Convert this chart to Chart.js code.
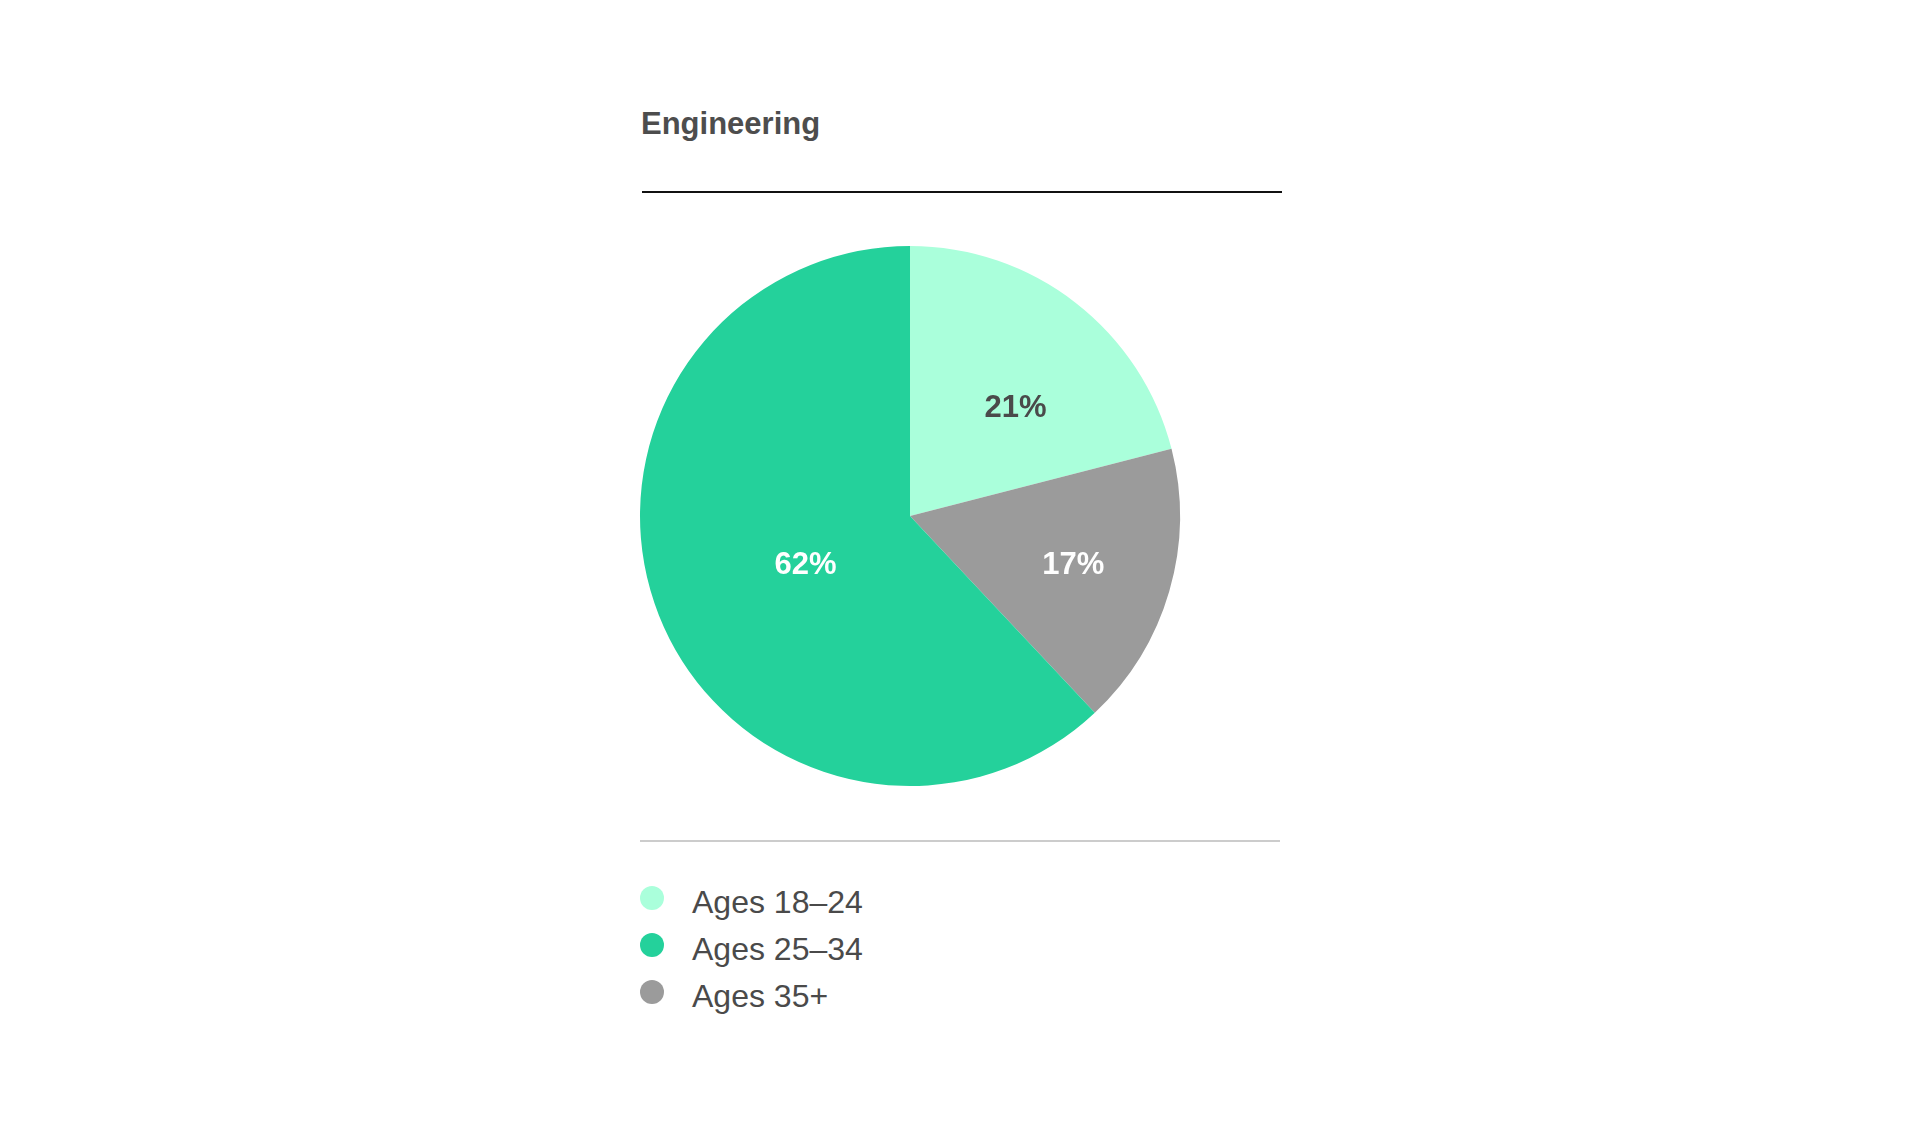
<!DOCTYPE html>
<html>
<head>
<meta charset="utf-8">
<title>Engineering</title>
<script src="https://cdn.jsdelivr.net/npm/chart.js@4.4.0/dist/chart.umd.min.js"></script>
<style>
	html, body {
		margin: 0;
		padding: 0;
		background: #ffffff;
	}
	body {
		width: 1920px;
		height: 1126px;
		position: relative;
		overflow: hidden;
		font-family: "Liberation Sans", Arial, sans-serif;
		color: #4a4a4a;
	}
	#title {
		position: absolute;
		left: 641px;
		top: 108px;
		margin: 0;
		font-size: 31px;
		line-height: 31px;
		font-weight: bold;
		color: #4d4d4d;
	}
	#topRule {
		position: absolute;
		left: 642px;
		top: 191px;
		width: 640px;
		height: 2px;
		background: #111111;
	}
	#pieBox {
		position: absolute;
		left: 630px;
		top: 236px;
		width: 560px;
		height: 560px;
	}
	#bottomRule {
		position: absolute;
		left: 640px;
		top: 840px;
		width: 640px;
		height: 2px;
		background: #cccccc;
	}
	#legend {
		position: absolute;
		left: 640px;
		top: 886px;
	}
	.row {
		position: relative;
		height: 47px;
	}
	.dot {
		position: absolute;
		left: 0;
		top: 0;
		width: 24px;
		height: 24px;
		border-radius: 50%;
	}
	.name {
		position: absolute;
		left: 52px;
		top: 0;
		font-size: 32px;
		line-height: 32px;
		white-space: nowrap;
		color: #4a4a4a;
	}
</style>
</head>
<body>
<h2 id="title">Engineering</h2>
<div id="topRule"></div>
<div id="pieBox"><canvas id="pieChart" width="560" height="560"></canvas></div>
<div id="bottomRule"></div>
<div id="legend"></div>

<script>
// legend order
const categories = ["Ages 18–24", "Ages 25–34", "Ages 35+"];
const shares = [21, 62, 17];
const sliceColors = ["#aaffdb", "#24d19b", "#9b9b9b"];
const labelColors = ["#4a4a4a", "#ffffff", "#ffffff"];

// slices go clockwise from 12 o'clock in this order
const drawOrder = [0, 2, 1];

// where the % label sits: share of the radius, and a small turn (deg) off the mid angle
const labelRadius = [0.565, 0.424, 0.63];
const labelTurn = [6, -2.5, 0];

// Legend
function buildLegend() {
	const box = document.getElementById("legend");
	categories.forEach((name, i) => {
		const row = document.createElement("div");
		row.className = "row";
		const dot = document.createElement("span");
		dot.className = "dot";
		dot.style.background = sliceColors[i];
		const text = document.createElement("span");
		text.className = "name";
		text.textContent = name;
		row.appendChild(dot);
		row.appendChild(text);
		box.appendChild(row);
	});
}

// Percent labels inside the slices
const sliceLabels = {
	id: "sliceLabels",
	afterDatasetsDraw(chart, args, opts) {
		const ctx = chart.ctx;
		const meta = chart.getDatasetMeta(0);
		const values = chart.data.datasets[0].data;
		ctx.save();
		ctx.font = 'bold 31px "Liberation Sans", Arial, sans-serif';
		ctx.textAlign = "center";
		ctx.textBaseline = "alphabetic";
		meta.data.forEach((arc, i) => {
			const p = arc.getProps(["x", "y", "startAngle", "endAngle", "outerRadius"], true);
			const mid = (p.startAngle + p.endAngle) / 2 + opts.turn[i] * Math.PI / 180;
			const r = p.outerRadius * opts.radius[i];
			ctx.fillStyle = opts.colors[i];
			ctx.fillText(values[i] + "%", p.x + Math.cos(mid) * r, p.y + Math.sin(mid) * r + 11);
		});
		ctx.restore();
	}
};

function plotPie() {
	const ctx = document.getElementById("pieChart").getContext("2d");
	new Chart(ctx, {
		type: "pie",
		data: {
			labels: drawOrder.map(i => categories[i]),
			datasets: [
				{
					data: drawOrder.map(i => shares[i]),
					backgroundColor: drawOrder.map(i => sliceColors[i]),
					hoverBackgroundColor: drawOrder.map(i => sliceColors[i]),
					borderWidth: 0
				}
			]
		},
		options: {
			responsive: false,
			animation: false,
			layout: {
				padding: 10
			},
			plugins: {
				legend: {
					display: false
				},
				tooltip: {
					enabled: false
				},
				sliceLabels: {
					radius: drawOrder.map(i => labelRadius[i]),
					turn: drawOrder.map(i => labelTurn[i]),
					colors: drawOrder.map(i => labelColors[i])
				}
			}
		},
		plugins: [sliceLabels]
	});
}

buildLegend();
plotPie();
</script>
</body>
</html>
